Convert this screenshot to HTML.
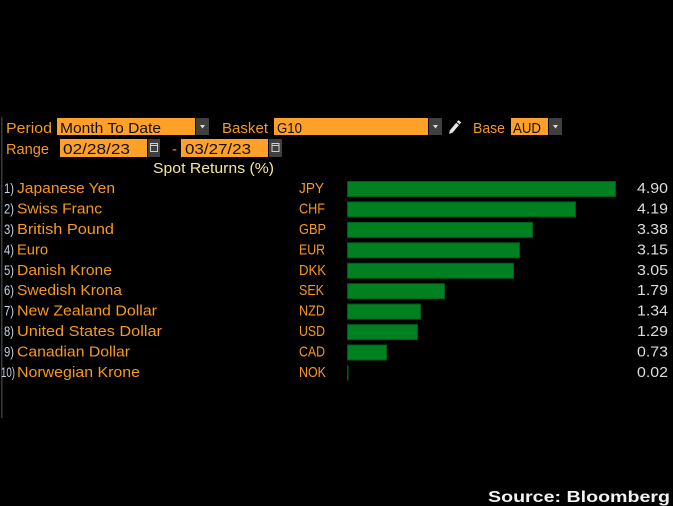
<!DOCTYPE html>
<html><head><meta charset="utf-8"><style>
html,body{margin:0;padding:0;background:#000;}
svg{display:block;}
text{font-family:"Liberation Sans",sans-serif;}
</style></head><body>
<svg width="673" height="506" viewBox="0 0 673 506" xmlns="http://www.w3.org/2000/svg">
<rect width="673" height="506" fill="#000"/>
<!-- left edge line -->
<rect x="1" y="117" width="1.5" height="301" fill="#3a3a3a"/>

<!-- control boxes -->
<rect x="57" y="118" width="138" height="17" fill="#ffa028"/>
<rect x="196" y="118" width="13" height="17" fill="#404040"/>
<polygon points="200,125 205,125 202.5,128.5" fill="#ddd"/>
<rect x="274" y="118" width="154" height="17" fill="#ffa028"/>
<rect x="429" y="118" width="13" height="17" fill="#404040"/>
<polygon points="433,125 438,125 435.5,128.5" fill="#ddd"/>
<!-- pencil -->
<g transform="translate(455,127) rotate(-50)">
<rect x="-6" y="-1.8" width="10" height="3.6" fill="#e6e6e6"/>
<polygon points="-6,-1.8 -9,0 -6,1.8" fill="#e6e6e6"/>
<rect x="5" y="-1.8" width="2.5" height="3.6" fill="#e6e6e6"/>
</g>
<rect x="511" y="118" width="37" height="17" fill="#ffa028"/>
<rect x="549" y="118" width="13" height="17" fill="#404040"/>
<polygon points="553,125 558,125 555.5,128.5" fill="#ddd"/>

<rect x="60" y="139" width="87" height="18" fill="#ffa028"/>
<rect x="148" y="139" width="12" height="18" fill="#404040"/>
<rect x="150.5" y="143.5" width="7" height="8" fill="none" stroke="#cfcfcf" stroke-width="1"/>
<line x1="150.5" y1="145.5" x2="157.5" y2="145.5" stroke="#cfcfcf"/>
<rect x="181" y="139" width="87" height="18" fill="#ffa028"/>
<rect x="269" y="139" width="13" height="18" fill="#404040"/>
<rect x="272" y="143.5" width="7" height="8" fill="none" stroke="#cfcfcf" stroke-width="1"/>
<line x1="272" y1="145.5" x2="279" y2="145.5" stroke="#cfcfcf"/>

<g font-size="15" fill="#f7991f">
<text x="6" y="133" textLength="46" lengthAdjust="spacingAndGlyphs">Period</text>
<text x="222" y="133" textLength="46" lengthAdjust="spacingAndGlyphs">Basket</text>
<text x="473" y="133" textLength="32" lengthAdjust="spacingAndGlyphs">Base</text>
<text x="6" y="154" textLength="43" lengthAdjust="spacingAndGlyphs">Range</text>
<text x="172" y="154">-</text>
</g>

<g font-size="15" fill="#111">
<text x="60" y="133" textLength="101" lengthAdjust="spacingAndGlyphs">Month To Date</text>
<text x="277" y="133" textLength="25" lengthAdjust="spacingAndGlyphs">G10</text>
<text x="513" y="133" textLength="28" lengthAdjust="spacingAndGlyphs">AUD</text>
<text x="63" y="154" textLength="67" lengthAdjust="spacingAndGlyphs">02/28/23</text>
<text x="185" y="154" textLength="66" lengthAdjust="spacingAndGlyphs">03/27/23</text>
</g>

<!-- title -->
<text x="153" y="173" font-size="15" fill="#f3e69a" textLength="121" lengthAdjust="spacingAndGlyphs">Spot Returns (%)</text>

<!-- rows -->
<g font-size="15">
<g fill="#c8d2e2" font-size="14">
<text x="4" y="193" textLength="10" lengthAdjust="spacingAndGlyphs">1)</text>
<text x="4" y="213.4" textLength="10" lengthAdjust="spacingAndGlyphs">2)</text>
<text x="4" y="233.9" textLength="10" lengthAdjust="spacingAndGlyphs">3)</text>
<text x="4" y="254.3" textLength="10" lengthAdjust="spacingAndGlyphs">4)</text>
<text x="4" y="274.8" textLength="10" lengthAdjust="spacingAndGlyphs">5)</text>
<text x="4" y="295.2" textLength="10" lengthAdjust="spacingAndGlyphs">6)</text>
<text x="4" y="315.6" textLength="10" lengthAdjust="spacingAndGlyphs">7)</text>
<text x="4" y="336.1" textLength="10" lengthAdjust="spacingAndGlyphs">8)</text>
<text x="4" y="356.5" textLength="10" lengthAdjust="spacingAndGlyphs">9)</text>
<text x="1" y="377" textLength="14" lengthAdjust="spacingAndGlyphs">10)</text>
</g>
<g fill="#f7991f">
<text x="17" y="193" textLength="98" lengthAdjust="spacingAndGlyphs">Japanese Yen</text>
<text x="17" y="213.4" textLength="85" lengthAdjust="spacingAndGlyphs">Swiss Franc</text>
<text x="17" y="233.9" textLength="97" lengthAdjust="spacingAndGlyphs">British Pound</text>
<text x="17" y="254.3" textLength="31" lengthAdjust="spacingAndGlyphs">Euro</text>
<text x="17" y="274.8" textLength="95" lengthAdjust="spacingAndGlyphs">Danish Krone</text>
<text x="17" y="295.2" textLength="105" lengthAdjust="spacingAndGlyphs">Swedish Krona</text>
<text x="17" y="315.6" textLength="140" lengthAdjust="spacingAndGlyphs">New Zealand Dollar</text>
<text x="17" y="336.1" textLength="145" lengthAdjust="spacingAndGlyphs">United States Dollar</text>
<text x="17" y="356.5" textLength="113" lengthAdjust="spacingAndGlyphs">Canadian Dollar</text>
<text x="17" y="377" textLength="123" lengthAdjust="spacingAndGlyphs">Norwegian Krone</text>

<text x="299" y="193" textLength="25" lengthAdjust="spacingAndGlyphs">JPY</text>
<text x="299" y="213.4" textLength="26" lengthAdjust="spacingAndGlyphs">CHF</text>
<text x="299" y="233.9" textLength="27" lengthAdjust="spacingAndGlyphs">GBP</text>
<text x="299" y="254.3" textLength="26" lengthAdjust="spacingAndGlyphs">EUR</text>
<text x="299" y="274.8" textLength="27" lengthAdjust="spacingAndGlyphs">DKK</text>
<text x="299" y="295.2" textLength="25" lengthAdjust="spacingAndGlyphs">SEK</text>
<text x="299" y="315.6" textLength="26" lengthAdjust="spacingAndGlyphs">NZD</text>
<text x="299" y="336.1" textLength="26" lengthAdjust="spacingAndGlyphs">USD</text>
<text x="299" y="356.5" textLength="26" lengthAdjust="spacingAndGlyphs">CAD</text>
<text x="299" y="377" textLength="27" lengthAdjust="spacingAndGlyphs">NOK</text>
</g>
<g fill="#dcdcdc">
<text x="637" y="193" textLength="31" lengthAdjust="spacingAndGlyphs">4.90</text>
<text x="637" y="213.4" textLength="31" lengthAdjust="spacingAndGlyphs">4.19</text>
<text x="637" y="233.9" textLength="31" lengthAdjust="spacingAndGlyphs">3.38</text>
<text x="637" y="254.3" textLength="31" lengthAdjust="spacingAndGlyphs">3.15</text>
<text x="637" y="274.8" textLength="31" lengthAdjust="spacingAndGlyphs">3.05</text>
<text x="637" y="295.2" textLength="31" lengthAdjust="spacingAndGlyphs">1.79</text>
<text x="637" y="315.6" textLength="31" lengthAdjust="spacingAndGlyphs">1.34</text>
<text x="637" y="336.1" textLength="31" lengthAdjust="spacingAndGlyphs">1.29</text>
<text x="637" y="356.5" textLength="31" lengthAdjust="spacingAndGlyphs">0.73</text>
<text x="637" y="377" textLength="31" lengthAdjust="spacingAndGlyphs">0.02</text>
</g>
</g>

<!-- bars -->
<g fill="#008020" stroke="#005c16" stroke-width="1">
<rect x="347.5" y="181.5" width="268" height="15"/>
<rect x="347.5" y="201.9" width="228" height="15"/>
<rect x="347.5" y="222.4" width="185" height="15"/>
<rect x="347.5" y="242.8" width="172" height="15"/>
<rect x="347.5" y="263.3" width="166" height="15"/>
<rect x="347.5" y="283.7" width="97" height="15"/>
<rect x="347.5" y="304.1" width="73" height="15"/>
<rect x="347.5" y="324.6" width="70" height="15"/>
<rect x="347.5" y="345" width="39" height="15"/>
</g>
<rect x="347" y="365.5" width="1.5" height="15" fill="#00601a"/>

<!-- source -->
<text x="488" y="502" font-family="DejaVu Sans, sans-serif" font-weight="bold" font-size="16" fill="#f2f2f2" textLength="182" lengthAdjust="spacingAndGlyphs">Source: Bloomberg</text>
</svg>
</body></html>
